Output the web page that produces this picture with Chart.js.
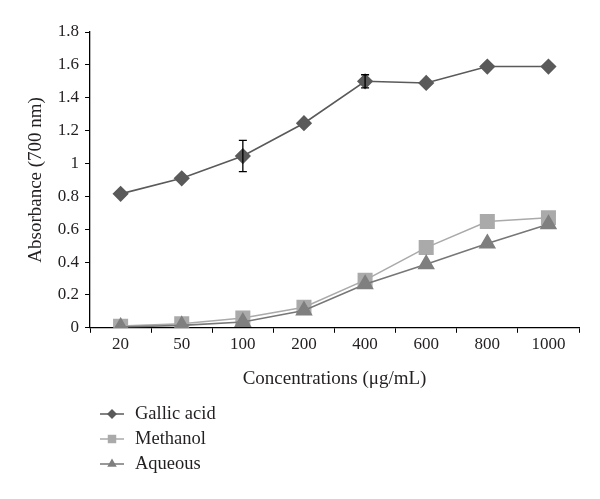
<!DOCTYPE html>
<html><head><meta charset="utf-8">
<script src="https://cdn.jsdelivr.net/npm/chart.js@4"></script>
<style>html,body{margin:0;padding:0;background:#fff}#wrap{width:600px;height:499px}</style>
</head><body><div id="wrap"><canvas id="c" width="600" height="499"></canvas></div>
<script>
const categories = ['20','50','100','200','400','600','800','1000'];
const gallicAcid = [0.815, 0.91, 1.045, 1.245, 1.50, 1.49, 1.59, 1.59];
const gallicErr  = [0, 0, 0.095, 0, 0.04, 0, 0, 0];
const methanol   = [0.01, 0.025, 0.06, 0.125, 0.29, 0.488, 0.647, 0.67];
const aqueous    = [0.005, 0.015, 0.035, 0.105, 0.265, 0.387, 0.513, 0.63];
const seriesNames = ['Gallic acid', 'Methanol', 'Aqueous'];

const FONT = "'Liberation Serif', 'DejaVu Serif', serif";
const TXT = '#231f20';

const errorBars = {
  id: 'errorBars',
  afterDatasetsDraw(chart) {
    const ctx = chart.ctx, x = chart.scales.x, y = chart.scales.y;
    ctx.save();
    ctx.strokeStyle = '#000'; ctx.lineWidth = 1.3;
    gallicErr.forEach((e, i) => {
      if (!e) return;
      const px = x.getPixelForValue(i);
      const t = y.getPixelForValue(gallicAcid[i] + e), b = y.getPixelForValue(gallicAcid[i] - e);
      ctx.beginPath();
      ctx.moveTo(px, t); ctx.lineTo(px, b);
      ctx.moveTo(px - 4, t); ctx.lineTo(px + 4, t);
      ctx.moveTo(px - 4, b); ctx.lineTo(px + 4, b);
      ctx.stroke();
    });
    ctx.restore();
  }
};

const vLegend = {
  id: 'vLegend',
  afterDraw(chart) {
    const ctx = chart.ctx;
    const ds = chart.data.datasets;
    const x0 = 100, y0 = 414, dy = 25;
    ctx.save();
    ds.forEach((d, i) => {
      const yy = y0 + i * dy;
      ctx.strokeStyle = d.borderColor; ctx.lineWidth = 1.5;
      ctx.beginPath(); ctx.moveTo(x0, yy); ctx.lineTo(x0 + 24, yy); ctx.stroke();
      ctx.fillStyle = d.pointBackgroundColor;
      Chart.helpers.drawPoint(ctx, {pointStyle: d.pointStyle, radius: d.legendRadius, borderWidth: 0, rotation: 0}, x0 + 12, yy);
      ctx.fillStyle = TXT;
      ctx.font = "18.5px " + FONT;
      ctx.textBaseline = 'middle'; ctx.textAlign = 'left';
      ctx.fillText(seriesNames[i], x0 + 35, yy);
    });
    ctx.restore();
  }
};

new Chart(document.getElementById('c'), {
  type: 'line',
  data: {
    labels: categories,
    datasets: [
      {label: seriesNames[0], data: gallicAcid, borderColor: '#5a5a5a', backgroundColor: '#5a5a5a',
       pointBackgroundColor: '#5a5a5a', pointBorderColor: '#5a5a5a', pointStyle: 'rectRot', pointRadius: 7, legendRadius: 5,
       borderWidth: 1.6, order: 0},
      {label: seriesNames[1], data: methanol, borderColor: '#aaaaaa', backgroundColor: '#aaaaaa',
       pointBackgroundColor: '#aaaaaa', pointBorderColor: '#aaaaaa', pointStyle: 'rect', pointRadius: 9.5, legendRadius: 6,
       borderWidth: 1.6, order: 2},
      {label: seriesNames[2], data: aqueous, borderColor: '#777777', backgroundColor: '#7f7f7f',
       pointBackgroundColor: '#7f7f7f', pointBorderColor: '#7f7f7f', pointStyle: 'triangle', pointRadius: 8.5, legendRadius: 5.5,
       borderWidth: 1.6, order: 1}
    ]
  },
  options: {
    responsive: false, animation: false, devicePixelRatio: 1,
    layout: {padding: {top: 32, right: 21, left: 21, bottom: 105}},
    plugins: {legend: {display: false}, tooltip: {enabled: false}},
    elements: {line: {tension: 0}, point: {borderWidth: 0, hoverRadius: 7}},
    scales: {
      x: {
        offset: true,
        grid: {offset: true, drawOnChartArea: false, drawTicks: true, tickLength: 5, color: '#000'},
        border: {color: '#000', width: 1.3},
        ticks: {color: TXT, font: {family: FONT, size: 17}, padding: 2},
        title: {display: true, text: 'Concentrations (μg/mL)', color: TXT, font: {family: FONT, size: 19}, padding: {top: 10}}
      },
      y: {
        min: 0, max: 1.8,
        grid: {drawOnChartArea: false, drawTicks: true, tickLength: 5, color: '#000'},
        border: {color: '#000', width: 1.3},
        ticks: {stepSize: 0.2, color: TXT, font: {family: FONT, size: 17}, padding: 6,
                callback: v => String(Math.round(v * 10) / 10)},
        title: {display: true, text: 'Absorbance (700 nm)', color: TXT, font: {family: FONT, size: 19}, padding: {bottom: 4}}
      }
    }
  },
  plugins: [errorBars, vLegend]
});
</script></body></html>
